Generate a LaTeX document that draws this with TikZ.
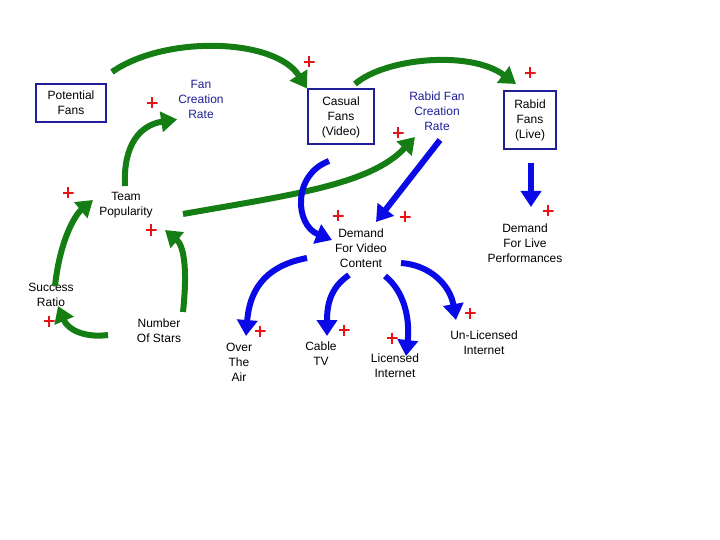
\documentclass[tikz,border=0pt]{standalone}
\usepackage{fontspec}
\setmainfont{Liberation Sans}
\usetikzlibrary{arrows.meta}
\definecolor{grn}{RGB}{20,125,20}
\definecolor{blu}{RGB}{10,10,230}
\definecolor{nblue}{RGB}{30,30,150}
\definecolor{plus}{RGB}{230,20,20}
\begin{document}
\begin{tikzpicture}[x=1pt,y=-1pt,
 txt/.style={align=center,font=\fontsize{12}{15}\selectfont,inner sep=1pt},
 stock/.style={txt,draw=nblue,line width=2pt,minimum height=38pt,inner sep=4pt},
 rate/.style={txt,text=nblue},
 pl/.style={inner sep=0pt,minimum size=11pt,path picture={\draw[plus,line width=2.6pt] (path picture bounding box.north) -- (path picture bounding box.south) (path picture bounding box.west) -- (path picture bounding box.east);}},
 ga/.style={draw=grn,line width=6pt,-{Triangle[length=16pt,width=20pt]}},
 ba/.style={draw=blu,line width=6pt,-{Triangle[length=16pt,width=20pt]}}]
\useasboundingbox (0,0) rectangle (720,540);
\node[stock,minimum width=70pt] (pf) at (71,103) {Potential\\Fans};
\node[rate] (fcr) at (201,99) {Fan\\Creation\\Rate};
\node[stock,minimum width=66pt,minimum height=55pt] (cf) at (341,117) {Casual\\Fans\\(Video)};
\node[rate] (rfcr) at (437,111) {Rabid Fan\\Creation\\Rate};
\node[stock,minimum width=52pt,minimum height=58pt] (rf) at (530,120) {Rabid\\Fans\\(Live)};
\node[txt] (tp) at (126,205) {Team\\Popularity};
\node[txt] (sr) at (51,295) {Success\\Ratio};
\node[txt] (ns) at (159,331) {Number\\Of Stars};
\node[txt] (dv) at (361,248) {Demand\\For Video\\Content};
\node[txt] (dl) at (525,243) {Demand\\For Live\\Performances};
\node[txt] (ota) at (239,362) {Over\\The\\Air};
\node[txt] (ctv) at (321,354) {Cable\\TV};
\node[txt] (li) at (395,366) {Licensed\\Internet};
\node[txt] (ui) at (484,343) {Un-Licensed\\Internet};
\foreach \i/\p in {1/{309,62},2/{152,103},3/{530,73},4/{398,133},5/{68,193},6/{151,230},7/{49,321},8/{338,216},9/{405,217},10/{548,211},11/{260,331},12/{344,330},13/{392,338},14/{470,313}}
  \node[pl] (p\i) at (\p) {};
\coordinate (a1) at (112,72);
\draw[ga] (a1) .. controls (165,35) and (275,38) .. (cf.north west);
\draw[ga] (125,186) .. controls (123,145) and (140,125) .. (fcr.south west);
\draw[ga] (55,286) .. controls (60,240) and (75,215) .. (93,200);
\draw[ga] (108,335) .. controls (85,338) and (68,330) .. (58,306);
\draw[ga] (183,312) .. controls (188,265) and (183,245) .. (165,230);
\draw[ga] (183,214) .. controls (290,195) and (370,185) .. (415,137);
\draw[ga] (355,84) .. controls (385,58) and (470,50) .. (516,84);
\draw[ba] (329,161) .. controls (292,175) and (295,225) .. (332,240);
\draw[ba] (440,140) -- (376,222);
\draw[ba] (531,163) -- (531,207);
\draw[ba] (307,258) .. controls (270,265) and (250,285) .. (246,336);
\draw[ba] (349,275) .. controls (330,288) and (327,305) .. (327,336);
\draw[ba] (385,276) .. controls (405,292) and (410,320) .. (406,356);
\draw[ba] (401,263) .. controls (430,265) and (450,285) .. (456,320);
\end{tikzpicture}
\end{document}
